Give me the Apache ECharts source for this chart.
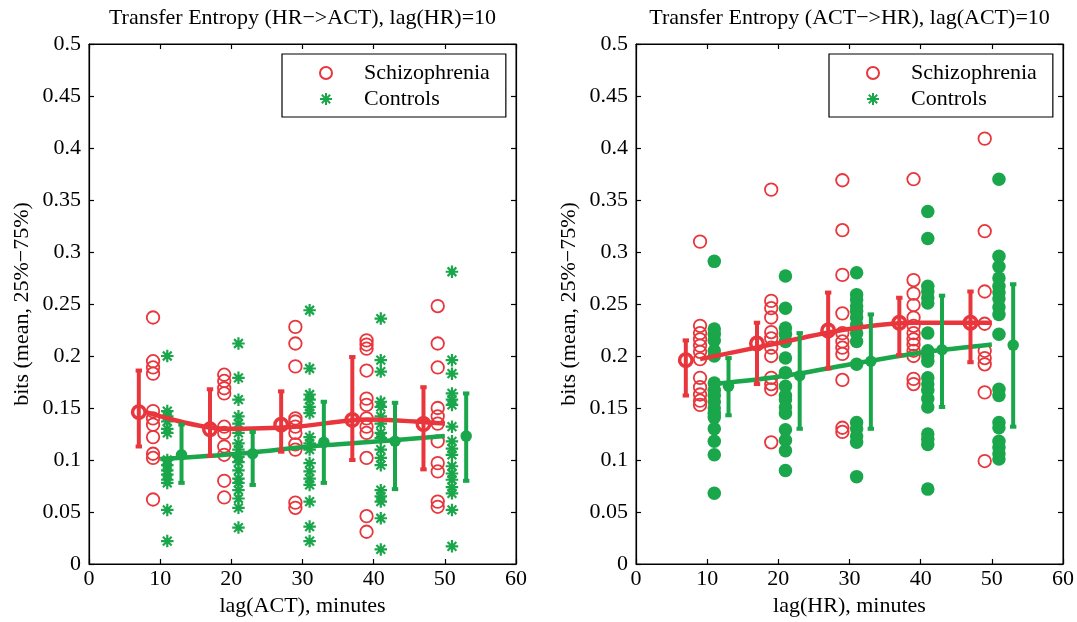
<!DOCTYPE html>
<html><head><meta charset="utf-8">
<script src="https://cdn.jsdelivr.net/npm/echarts@6/dist/echarts.min.js"></script>
<style>html,body{margin:0;padding:0;background:#fff}#c{width:1077px;height:622px}</style>
</head><body><div id="c"></div>
<script>
// ---------- data ----------
const xTicks = [0, 10, 20, 30, 40, 50, 60];
const yTicks = [0, 0.05, 0.1, 0.15, 0.2, 0.25, 0.3, 0.35, 0.4, 0.45, 0.5];

const colSch = [9, 19, 29, 39, 49];      // scatter column positions, Schizophrenia
const colCtl = [11, 21, 31, 41, 51];     // scatter column positions, Controls
const meanXSch = [7, 17, 27, 37, 47];
const meanXCtl = [13, 23, 33, 43, 53];

// Left panel: HR->ACT
const leftSch = [
  [0.237,0.195,0.189,0.183,0.147,0.140,0.134,0.122,0.106,0.102,0.062],
  [0.182,0.176,0.169,0.164,0.132,0.126,0.113,0.105,0.080,0.064],
  [0.228,0.212,0.190,0.140,0.137,0.132,0.126,0.115,0.110,0.059,0.054],
  [0.215,0.211,0.207,0.186,0.159,0.153,0.140,0.132,0.126,0.102,0.046,0.031],
  [0.248,0.212,0.189,0.150,0.142,0.135,0.118,0.097,0.089,0.060,0.055]
];
const leftCtl = [
  [0.200,0.147,0.142,0.137,0.130,0.126,0.100,0.095,0.090,0.086,0.081,0.078,0.052,0.022],
  [0.212,0.179,0.158,0.142,0.135,0.126,0.116,0.110,0.103,0.098,0.090,0.082,0.078,0.071,0.063,0.054,0.035],
  [0.244,0.188,0.163,0.158,0.151,0.145,0.122,0.116,0.110,0.097,0.089,0.082,0.076,0.060,0.036,0.022],
  [0.236,0.196,0.185,0.156,0.151,0.142,0.135,0.126,0.121,0.110,0.102,0.095,0.071,0.065,0.060,0.044,0.014],
  [0.281,0.196,0.183,0.164,0.158,0.153,0.132,0.118,0.111,0.105,0.094,0.087,0.081,0.074,0.068,0.052,0.017]
];
const leftSchMean = [0.146, 0.1295, 0.134, 0.1385, 0.1346];
const leftSchLo   = [0.113, 0.104, 0.108, 0.100, 0.091];
const leftSchHi   = [0.186, 0.168, 0.166, 0.199, 0.170];
const leftCtlMean = [0.105, 0.106, 0.117, 0.118, 0.123];
const leftCtlLo   = [0.078, 0.076, 0.078, 0.072, 0.080];
const leftCtlHi   = [0.134, 0.127, 0.156, 0.155, 0.164];
const leftFitSchX = [8, 19, 29, 39, 50];
const leftFitSchY = [0.146, 0.130, 0.132, 0.139, 0.135];
const leftFitCtlX = [10, 21, 31, 41, 50];
const leftFitCtlY = [0.101, 0.106, 0.113, 0.118, 0.123];

// Right panel: ACT->HR
const rightSch = [
  [0.310,0.229,0.222,0.216,0.210,0.204,0.197,0.179,0.170,0.163,0.157,0.153],
  [0.360,0.253,0.246,0.237,0.223,0.217,0.208,0.200,0.179,0.173,0.168,0.117],
  [0.369,0.321,0.278,0.241,0.222,0.214,0.208,0.202,0.177,0.131,0.127],
  [0.370,0.273,0.260,0.249,0.237,0.229,0.222,0.216,0.211,0.205,0.200,0.178,0.173],
  [0.409,0.320,0.262,0.231,0.205,0.198,0.192,0.165,0.099]
];
const rightCtl = [
  [0.291,0.226,0.221,0.215,0.205,0.200,0.174,0.167,0.162,0.156,0.150,0.145,0.141,0.130,0.118,0.105,0.068],
  [0.277,0.246,0.227,0.221,0.214,0.198,0.184,0.171,0.162,0.158,0.151,0.145,0.129,0.119,0.109,0.090],
  [0.280,0.259,0.254,0.248,0.243,0.237,0.230,0.222,0.214,0.192,0.136,0.130,0.123,0.117,0.084],
  [0.339,0.313,0.267,0.262,0.256,0.251,0.222,0.205,0.200,0.195,0.179,0.173,0.167,0.159,0.151,0.125,0.120,0.115,0.072],
  [0.370,0.296,0.286,0.275,0.267,0.261,0.255,0.247,0.240,0.221,0.168,0.162,0.136,0.131,0.118,0.112,0.106,0.101]
];
const rightSchMean = [0.196, 0.212, 0.2245, 0.232, 0.232];
const rightSchLo   = [0.162, 0.173, 0.188, 0.201, 0.194];
const rightSchHi   = [0.215, 0.232, 0.261, 0.256, 0.262];
const rightCtlMean = [0.171, 0.181, 0.195, 0.206, 0.2105];
const rightCtlLo   = [0.143, 0.130, 0.130, 0.151, 0.132];
const rightCtlHi   = [0.198, 0.222, 0.240, 0.258, 0.269];
const rightFitSchX = [9, 19, 29, 39, 50];
const rightFitSchY = [0.197, 0.211, 0.225, 0.232, 0.232];
const rightFitCtlX = [11, 21, 31, 41, 50];
const rightFitCtlY = [0.173, 0.181, 0.193, 0.204, 0.211];

const titles = ['Transfer Entropy (HR\u2212>ACT), lag(HR)=10', 'Transfer Entropy (ACT\u2212>HR), lag(ACT)=10'];
const xNames = ['lag(ACT), minutes', 'lag(HR), minutes'];
const yName = 'bits (mean, 25%\u221275%)';
const legendNames = ['Schizophrenia', 'Controls'];

// ---------- style ----------
const RED = '#e8363c', GREEN = '#1aa64a';
const FONT = 'Liberation Serif';
const FS = 22;
const STAR = 'path://M5,0L5,10M0,5L10,5M1.5,1.5L8.5,8.5M1.5,8.5L8.5,1.5';
const grids = [{left: 89, top: 44, width: 427, height: 520}, {left: 636, top: 44, width: 427, height: 520}];

function cols(xs, vals) { const out = []; vals.forEach((arr, i) => arr.forEach(v => out.push([xs[i], v]))); return out; }
function pairs(xs, ys) { return xs.map((x, i) => [x, ys[i]]); }
function bars(xs, lo, hi) { return xs.map((x, i) => [x, lo[i], hi[i]]); }

function errRender(color) {
  return function (params, api) {
    const x = api.value(0), lo = api.value(1), hi = api.value(2);
    const a = api.coord([x, lo]), b = api.coord([x, hi]);
    const w = 3.2, st = {stroke: color, lineWidth: 4};
    return {type: 'group', children: [
      {type: 'line', shape: {x1: a[0], y1: a[1], x2: b[0], y2: b[1]}, style: st},
      {type: 'line', shape: {x1: a[0] - w, y1: a[1], x2: a[0] + w, y2: a[1]}, style: st},
      {type: 'line', shape: {x1: b[0] - w, y1: b[1], x2: b[0] + w, y2: b[1]}, style: st}
    ]};
  };
}

const panels = [
  {sch: leftSch, ctl: leftCtl, sm: leftSchMean, sl: leftSchLo, sh: leftSchHi, cm: leftCtlMean, cl: leftCtlLo, ch: leftCtlHi,
   fsx: leftFitSchX, fsy: leftFitSchY, fcx: leftFitCtlX, fcy: leftFitCtlY, star: true},
  {sch: rightSch, ctl: rightCtl, sm: rightSchMean, sl: rightSchLo, sh: rightSchHi, cm: rightCtlMean, cl: rightCtlLo, ch: rightCtlHi,
   fsx: rightFitSchX, fsy: rightFitSchY, fcx: rightFitCtlX, fcy: rightFitCtlY, star: false}
];

const xAxis = [], yAxis = [], series = [], legend = [], graphic = [];
const lineStyle = {color: '#000', width: 1.2};
panels.forEach((p, g) => {
  xAxis.push({gridIndex: g, type: 'value', min: xTicks[0], max: xTicks[xTicks.length - 1], interval: 10, position: 'bottom',
    axisLine: {show: true, onZero: false, lineStyle}, axisTick: {show: true, inside: true, length: 5, lineStyle},
    splitLine: {show: false}, axisLabel: {color: '#000', fontFamily: FONT, fontSize: FS, margin: 4},
    name: xNames[g], nameLocation: 'middle', nameGap: 25, nameTextStyle: {color: '#000', fontFamily: FONT, fontSize: FS}});
  xAxis.push({gridIndex: g, type: 'value', min: xTicks[0], max: xTicks[xTicks.length - 1], interval: 10, position: 'top',
    axisLine: {show: true, onZero: false, lineStyle}, axisTick: {show: true, inside: true, length: 5, lineStyle},
    splitLine: {show: false}, axisLabel: {show: false}});
  yAxis.push({gridIndex: g, type: 'value', min: yTicks[0], max: yTicks[yTicks.length - 1], interval: 0.05, position: 'left',
    axisLine: {show: true, onZero: false, lineStyle}, axisTick: {show: true, inside: true, length: 5, lineStyle},
    splitLine: {show: false}, axisLabel: {color: '#000', fontFamily: FONT, fontSize: FS, margin: 8},
    name: yName, nameLocation: 'middle', nameGap: 56, nameTextStyle: {color: '#000', fontFamily: FONT, fontSize: FS}});
  yAxis.push({gridIndex: g, type: 'value', min: yTicks[0], max: yTicks[yTicks.length - 1], interval: 0.05, position: 'right',
    axisLine: {show: true, onZero: false, lineStyle}, axisTick: {show: true, inside: true, length: 5, lineStyle},
    splitLine: {show: false}, axisLabel: {show: false}});
  const xi = 2 * g, yi = 2 * g;
  series.push({name: legendNames[0], type: 'scatter', xAxisIndex: xi, yAxisIndex: yi, z: 2,
    symbol: 'circle', symbolSize: 12.5, data: cols(colSch, p.sch),
    itemStyle: {color: 'rgba(0,0,0,0)', borderColor: RED, borderWidth: 1.8, opacity: 1}});
  series.push({name: legendNames[1], type: 'scatter', xAxisIndex: xi, yAxisIndex: yi, z: 2,
    symbol: p.star ? STAR : 'circle', symbolSize: p.star ? 12.5 : 13.5, data: cols(colCtl, p.ctl),
    itemStyle: p.star ? {color: 'rgba(0,0,0,0)', borderColor: GREEN, borderWidth: 2.2, opacity: 1}
                      : {color: GREEN, borderWidth: 0, opacity: 1}});
  series.push({name: 'fitS' + g, type: 'line', xAxisIndex: xi, yAxisIndex: yi, z: 3, smooth: 0.3, showSymbol: false,
    data: pairs(p.fsx, p.fsy), lineStyle: {color: RED, width: 4.5}, itemStyle: {color: RED}});
  series.push({name: 'fitC' + g, type: 'line', xAxisIndex: xi, yAxisIndex: yi, z: 3, smooth: 0.3, showSymbol: false,
    data: pairs(p.fcx, p.fcy), lineStyle: {color: GREEN, width: 4.5}, itemStyle: {color: GREEN}});
  series.push({name: 'errS' + g, type: 'custom', xAxisIndex: xi, yAxisIndex: yi, z: 4,
    renderItem: errRender(RED), data: bars(meanXSch, p.sl, p.sh), encode: {x: 0, y: [1, 2]}});
  series.push({name: 'errC' + g, type: 'custom', xAxisIndex: xi, yAxisIndex: yi, z: 4,
    renderItem: errRender(GREEN), data: bars(meanXCtl, p.cl, p.ch), encode: {x: 0, y: [1, 2]}});
  series.push({name: 'meanS' + g, type: 'scatter', xAxisIndex: xi, yAxisIndex: yi, z: 5,
    symbol: 'circle', symbolSize: 12.5, data: pairs(meanXSch, p.sm),
    itemStyle: {color: 'rgba(0,0,0,0)', borderColor: RED, borderWidth: 3.5, opacity: 1}});
  series.push({name: 'meanC' + g, type: 'scatter', xAxisIndex: xi, yAxisIndex: yi, z: 5,
    symbol: 'circle', symbolSize: 11.5, data: pairs(meanXCtl, p.cm),
    itemStyle: {color: GREEN, opacity: 1}});
  legend.push({data: legendNames.map(n => ({name: n})), orient: 'vertical', left: grids[g].left + 193, top: 54,
    itemWidth: 66, itemHeight: 12, itemGap: 4, padding: [8, 16, 7, 37], selectedMode: false,
    borderColor: '#000', borderWidth: 1.2, backgroundColor: '#fff', z: 10,
    textStyle: {color: '#000', fontFamily: FONT, fontSize: FS, lineHeight: 22}});
  graphic.push({type: 'text', x: grids[g].left + grids[g].width / 2, y: 18, z: 10,
    style: {text: titles[g], fontFamily: FONT, fontSize: FS, fill: '#000', align: 'center', verticalAlign: 'middle'}});
});

const chart = echarts.init(document.getElementById('c'), null, {renderer: 'canvas'});
chart.setOption({
  animation: false,
  backgroundColor: '#fff',
  grid: grids.map(gr => Object.assign({show: true, borderColor: '#000', borderWidth: 1, backgroundColor: 'rgba(0,0,0,0)'}, gr)),
  xAxis, yAxis, series, legend, graphic,
  tooltip: {show: false}
});
</script></body></html>
